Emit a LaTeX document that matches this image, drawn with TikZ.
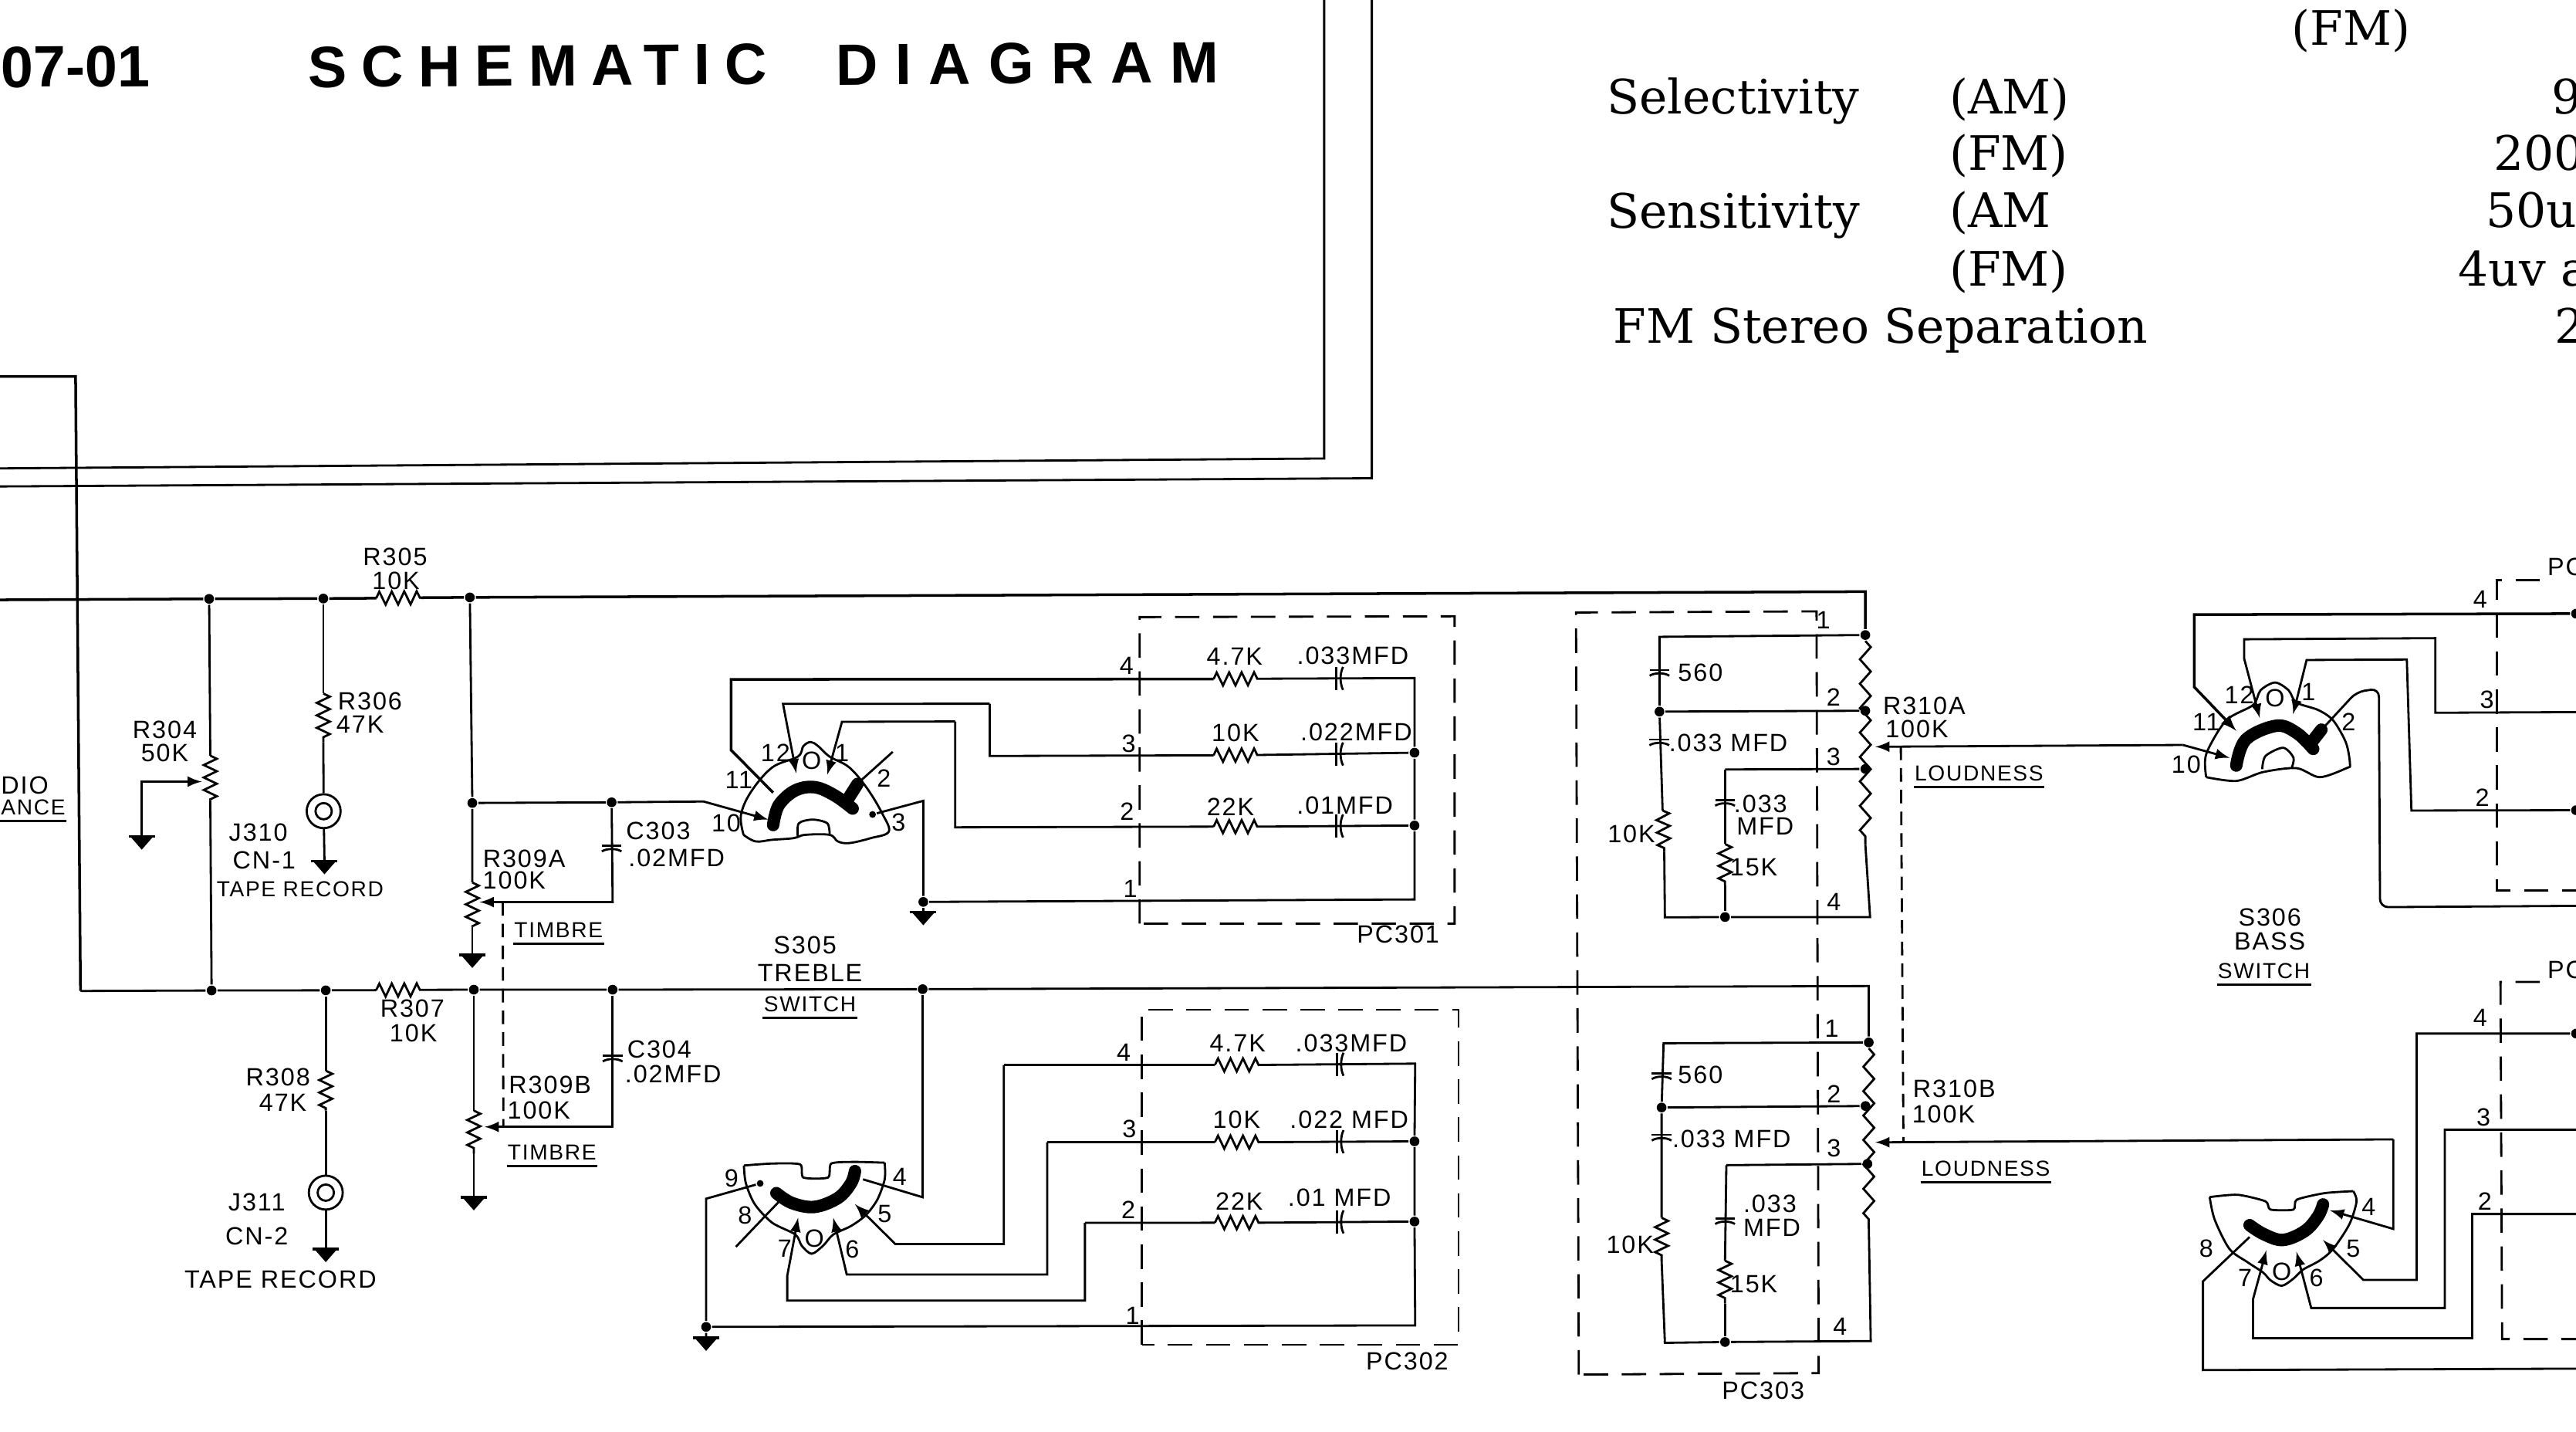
\documentclass[tikz,border=0pt]{standalone}
\usepackage{fontspec}
\usetikzlibrary{decorations.pathmorphing}
\newfontfamily\labfont[LetterSpace=6]{Liberation Sans}
\newfontfamily\titlefont{Liberation Sans Bold}
\newfontfamily\specfont{DejaVu Serif}
\begin{document}
\begin{tikzpicture}[x=0.2129mm, y=-0.2129mm, line width=0.8pt,
    lab/.style = {font=\labfont\fontsize{9.2}{10}\selectfont, inner sep=0pt},
    labn/.style = {font=\labfont\fontsize{8}{10}\selectfont, inner sep=0pt},
    titletext/.style = {font=\titlefont\fontsize{21.5}{24}\selectfont, inner sep=0pt, anchor=west, rotate=0.4},
    spec/.style = {font=\specfont\fontsize{17.5}{20}\selectfont, inner sep=0pt, anchor=base west},
    dot/.style = {circle, fill, inner sep=0pt, minimum size=3.6pt},
    res/.style = {decorate, decoration={zigzag, segment length=4.6pt, amplitude=2.4pt}},
    pot/.style = {decorate, decoration={zigzag, segment length=9pt, amplitude=2pt}},
    dashbox/.style = {dash pattern=on 9pt off 5pt},
    gang/.style = {dash pattern=on 5pt off 3pt},
    thickarc/.style = {line width=4.6pt, line cap=round},
    gnd/.pic = {\draw[line width=1pt] (-8,0) -- (8,0); \fill (-7,0) -- (7,0) -- (0,8) -- cycle;},
    caph/.pic = {\draw (-1.5,-7) -- (-1.5,7); \draw (2.5,-7) .. controls (0.5,-3) and (0.5,3) .. (2.5,7);},
    capv/.pic = {\draw (-6,-1) -- (6,-1); \draw (-6,2.5) .. controls (-3,0.5) and (3,0.5) .. (6,2.5);}]

    \path[use as bounding box, clip] (0,0) rectangle (1568,871);

    \node[titletext] (t1) at (0,41) {07-01};
    \node[titletext] (t2) at (187,41) {\addfontfeature{LetterSpace=25}SCHEMATIC};
    \node[titletext] (t3) at (508,39.5) {\addfontfeature{LetterSpace=30}DIAGRAM};

    \node[spec] (s1) at (1394.3,27.4) {(FM)};
    \node[spec] (s2) at (977.5,69.5) {Selectivity};
    \node[spec] (s3) at (1185.9,69.5) {(AM)};
    \node[spec] (s4) at (1185.9,103.4) {(FM)};
    \node[spec] (s5) at (977.5,139) {Sensitivity};
    \node[spec] (s6) at (1185.9,138.5) {(AM};
    \node[spec] (s7) at (1185.9,173.8) {(FM)};
    \node[spec] (s8) at (981.5,209) {FM Stereo Separation};
    \node[spec] (s9) at (1552.6,69.5) {9};
    \node[spec] (s10) at (1517.3,103.4) {200};
    \node[spec] (s11) at (1512.5,138.5) {50uv};
    \node[spec] (s12) at (1495.7,173.8) {4uv a};
    \node[spec] (s13) at (1554.6,209) {2};

    \coordinate (fa1) at (806,0);
    \coordinate (fa2) at (806,279);
    \coordinate (fa3) at (0,285);
    \coordinate (fb1) at (835,0);
    \coordinate (fb2) at (835,291);
    \coordinate (fb3) at (0,296);
    \draw (fa1) -- (fa2) -- (fa3);
    \draw (fb1) -- (fb2) -- (fb3);

    \coordinate (au0) at (0,229);
    \coordinate (au1) at (46,229);
    \coordinate (au2) at (49,603);
    \draw[line width=1pt] (au0) -- (au1) -- (au2);

    \coordinate (busa0) at (0,365);
    \coordinate (r305a) at (229,364);
    \coordinate (r305b) at (256,363.7);
    \coordinate (busa1) at (1135.4,360);
    \node[dot] (da304) at (127.3,364.4) {};
    \node[dot] (da306) at (196.8,364.2) {};
    \node[dot] (da309) at (286,363.5) {};
    \node[dot] (dpa1) at (1135.4,386.4) {};
    \draw[line width=1pt] (busa0) -- (da304) -- (da306) -- (r305a);
    \draw[res] (r305a) -- (r305b);
    \draw[line width=1pt] (r305b) -- (da309) -- (busa1) -- (dpa1);
    \node[lab] (lr305) at (240.5,339) {R305};
    \node[lab] (lr305v) at (241,353.6) {10K};

    \coordinate (r307a) at (229,602.5);
    \coordinate (r307b) at (256,602.3);
    \coordinate (busb1) at (1137.5,600);
    \node[dot] (db304) at (128.8,602.7) {};
    \node[dot] (db308) at (198.3,602.6) {};
    \node[dot] (db309) at (288.4,602.2) {};
    \node[dot] (db304c) at (372.9,602.2) {};
    \node[dot] (db305) at (561.6,601.9) {};
    \node[dot] (dpb1) at (1137.5,634.3) {};
    \draw (au2) -- (db304) -- (db308) -- (r307a);
    \draw[res] (r307a) -- (r307b);
    \draw (r307b) -- (db309) -- (db304c) -- (db305) -- (busb1) -- (dpb1);
    \node[lab] (lr307) at (251,613.7) {R307};
    \node[lab] (lr307v) at (251.6,628.6) {10K};

    \node[lab, anchor=west] (aud1) at (0,477.8) {DIO};
    \node[labn, anchor=west] (aud2) at (0,491.3) {ANCE};
    \draw ([yshift=-1.8pt]aud2.south west) -- ([yshift=-1.8pt]aud2.south east);

    \coordinate (r304a) at (128,459.8);
    \coordinate (r304b) at (128,486.8);
    \coordinate (w304a) at (122.8,475.6);
    \coordinate (w304b) at (86.3,475.6);
    \coordinate (g304) at (86.3,509);
    \draw (da304) -- (r304a);
    \draw[res] (r304a) -- (r304b);
    \draw (r304b) -- (db304);
    \draw[-latex] (g304) -- (w304b) -- (w304a);
    \pic at (g304) {gnd};
    \node[lab] (lr304) at (100.3,444) {R304};
    \node[lab] (lr304v) at (100.3,458) {50K};

    \coordinate (r306a) at (196.8,422);
    \coordinate (r306b) at (196.8,451.7);
    \coordinate (g310) at (197.5,524);
    \node[draw, circle, minimum size=12.5pt, inner sep=0pt] (j310) at (197,493.6) {};
    \node[draw, circle, minimum size=6pt, inner sep=0pt] (j310i) at (197,493.6) {};
    \draw (da306) -- (r306a);
    \draw[res] (r306a) -- (r306b);
    \draw (r306b) -- (j310);
    \draw (j310) -- (g310);
    \pic at (g310) {gnd};
    \node[lab] (lr306) at (225.2,426.9) {R306};
    \node[lab] (lr306v) at (219.2,441) {47K};
    \node[lab] (lj310) at (157.2,506.6) {J310};
    \node[lab] (lj310b) at (160.8,523.5) {CN-1};
    \node[labn] (lj310c) at (182.7,541) {TAPE RECORD};

    \coordinate (r308a) at (198.3,651.5);
    \coordinate (r308b) at (198.3,675.8);
    \coordinate (g311) at (198.3,760);
    \node[draw, circle, minimum size=12.5pt, inner sep=0pt] (j311) at (198.3,725.7) {};
    \node[draw, circle, minimum size=6pt, inner sep=0pt] (j311i) at (198.3,725.7) {};
    \draw (db308) -- (r308a);
    \draw[res] (r308a) -- (r308b);
    \draw (r308b) -- (j311);
    \draw (j311) -- (g311);
    \pic at (g311) {gnd};
    \node[lab] (lr308) at (169.2,655.5) {R308};
    \node[lab] (lr308v) at (172.2,671) {47K};
    \node[lab] (lj311) at (156.3,731.6) {J311};
    \node[lab] (lj311b) at (156.3,752) {CN-2};
    \node[lab] (lj311c) at (170.7,778.4) {TAPE RECORD};

    \node[dot] (d309a) at (287.5,488.6) {};
    \node[dot] (d303) at (372.3,488.2) {};
    \coordinate (r309aa) at (287.5,537);
    \coordinate (r309ab) at (287.5,564);
    \coordinate (w309a) at (292,548.9);
    \coordinate (c303b) at (372.9,548.9);
    \coordinate (c303) at (372.3,515.6);
    \coordinate (g309a) at (287.5,581);
    \coordinate (in305) at (428.3,487.7);
    \coordinate (gang1) at (306,548.9);
    \coordinate (gang2) at (306.4,685.7);
    \draw (da309) -- (d309a) -- (r309aa);
    \draw[res] (r309aa) -- (r309ab);
    \draw (r309ab) -- (g309a);
    \draw (d309a) -- (d303);
    \draw[-latex] (d303) -- (c303b) -- (w309a);
    \draw[gang] (gang1) -- (gang2);
    \pic at (g309a) {gnd};
    \pic at (c303) {capv};
    \node[lab] (lc303) at (400.7,505.7) {C303};
    \node[lab] (lc303v) at (411.8,521.9) {.02MFD};
    \node[lab] (lr309a) at (319,522.4) {R309A};
    \node[lab] (lr309av) at (313,535.8) {100K};
    \node[labn] (ltima) at (340,566) {TIMBRE};
    \draw ([yshift=-1.8pt]ltima.south west) -- ([yshift=-1.8pt]ltima.south east);

    \coordinate (r309ba) at (288.4,675.8);
    \coordinate (r309bb) at (288.4,702);
    \coordinate (w309b) at (295,685.7);
    \coordinate (c304b) at (372.9,685.7);
    \coordinate (c304) at (372.9,643.4);
    \coordinate (g309b) at (288.4,728.5);
    \draw (db309) -- (r309ba);
    \draw[res] (r309ba) -- (r309bb);
    \draw (r309bb) -- (g309b);
    \draw[-latex] (db304c) -- (c304b) -- (w309b);
    \pic at (g309b) {gnd};
    \pic at (c304) {capv};
    \node[lab] (lc304) at (401.3,638.5) {C304};
    \node[lab] (lc304v) at (409.7,653.8) {.02MFD};
    \node[lab] (lr309b) at (334.8,660) {R309B};
    \node[lab] (lr309bv) at (328,675.8) {100K};
    \node[labn] (ltimb) at (336,701.4) {TIMBRE};
    \draw ([yshift=-1.8pt]ltimb.south west) -- ([yshift=-1.8pt]ltimb.south east);

    \node[lab] (ls305) at (490,575) {S305};
    \node[lab] (ls305b) at (493,592) {TREBLE};
    \node[labn] (ls305c) at (493,611) {SWITCH};
    \draw ([yshift=-1.8pt]ls305c.south west) -- ([yshift=-1.8pt]ls305c.south east);

    \draw plot[smooth, tension=.6] coordinates {(452.6,508) (451,496) (457,482) (470,467) (485.6,460.4) (489,454) (493.5,451.5) (498,454) (505,460.4) (517,467) (528,480) (537,495) (541,506) (530,510) (517,513) (510,512) (505,508) (490,508) (483,510) (470,511) (460,512) (452.6,508)};
    \draw plot[smooth, tension=.5] coordinates {(485.6,509) (486.2,501) (494.6,498.7) (503.6,501) (505,508)};
    \draw[thickarc] plot[smooth, tension=.6] coordinates {(470.6,502) (474,490) (484,481) (496,479) (508,484) (519,492)};
    \draw[thickarc] (515,488) -- (522,477);

    \coordinate (p11a) at (445,413.4);
    \coordinate (p11b) at (445,456.4);
    \coordinate (p11c) at (470.6,482.3);
    \coordinate (p12a) at (476.6,428.3);
    \coordinate (p12b) at (484.7,470.5);
    \coordinate (p1a) at (512.5,439.2);
    \coordinate (p1b) at (503.6,471.3);
    \coordinate (p2a) at (543.4,457.5);
    \coordinate (p2b) at (524.5,474.5);
    \coordinate (p3b) at (562,487.3);
    \coordinate (p10) at (467.6,498.7);
    \coordinate (l3a) at (602.4,428.2);
    \coordinate (l3b) at (602.4,460);
    \coordinate (l2a) at (581.4,439);
    \coordinate (l2b) at (581.4,503.4);
    \node[dot, minimum size=2.5pt] (p3) at (531.1,495.6) {};
    \node[dot] (d305g) at (562,548.8) {};
    \coordinate (g305) at (562,555);
    \draw (d303) -- (in305);
    \draw[-latex] (in305) -- (p10);
    \draw[-latex] (l3a) -- (p12a) -- (p12b);
    \draw[-latex] (l2a) -- (p1a) -- (p1b);
    \draw (p2a) -- (p2b);
    \draw (p3) -- (p3b) -- (d305g) -- (g305);
    \pic at (g305) {gnd};
    \node[lab] (n11) at (449.7,474.5) {11};
    \node[lab] (n12) at (472,458) {12};
    \node[lab] (n0) at (494,462.7) {O};
    \node[lab] (n1) at (512.5,458) {1};
    \node[lab] (n2) at (538,473.7) {2};
    \node[lab] (n3) at (547,500.3) {3};
    \node[lab] (n10) at (442,501) {10};

    \coordinate (pca1) at (693.7,375.5);
    \coordinate (pca2) at (885.4,375);
    \coordinate (pca3) at (885.4,562);
    \coordinate (pca4) at (693.7,562);
    \draw[dashbox] (pca4) -- (pca1) -- (pca2) -- (pca3) -- (pca4);
    \node[lab] (lpc301) at (851,568.4) {PC301};

    \coordinate (ra1) at (738.7,413.2);
    \coordinate (ra2) at (765.6,413);
    \coordinate (ca1) at (815,412.8);
    \coordinate (ea1) at (861,412.6);
    \coordinate (ra3) at (738.7,459.6);
    \coordinate (ra4) at (765.6,459.4);
    \coordinate (ca2) at (815,458.8);
    \coordinate (ra5) at (738.7,503);
    \coordinate (ra6) at (765.6,503);
    \coordinate (ca3) at (815,502.6);
    \coordinate (ea4) at (861,547.3);
    \node[dot] (ea2) at (861,458) {};
    \node[dot] (ea3) at (861,502.3) {};
    \draw[line width=1pt] (p11c) -- (p11b) -- (p11a) -- (ra1);
    \draw[res] (ra1) -- (ra2);
    \draw (ra2) -- (ea1) -- (ea2) -- (ea3) -- (ea4) -- (d305g);
    \draw (l3a) -- (l3b) -- (ra3);
    \draw[res] (ra3) -- (ra4);
    \draw (ra4) -- (ea2);
    \draw (l2a) -- (l2b) -- (ra5);
    \draw[res] (ra5) -- (ra6);
    \draw (ra6) -- (ea3);
    \pic at (ca1) {caph};
    \pic at (ca2) {caph};
    \pic at (ca3) {caph};
    \node[lab] (na4) at (685.7,405) {4};
    \node[lab] (na3) at (687,452.5) {3};
    \node[lab] (na2) at (686,494) {2};
    \node[lab] (na1) at (688,541) {1};
    \node[lab] (va1) at (751.5,399.6) {4.7K};
    \node[lab] (va2) at (823.4,399) {.033MFD};
    \node[lab] (va3) at (752,446) {10K};
    \node[lab] (va4) at (825.5,445.5) {.022MFD};
    \node[lab] (va5) at (749,490.9) {22K};
    \node[lab] (va6) at (818.6,490) {.01MFD};

    \draw plot[smooth, tension=.5] coordinates {(452.8,709.2) (454,720) (459.4,732.7) (470,744) (484.1,751.2) (488,758) (494,762.9) (501,758) (507.2,751.2) (518,746) (527,739.4) (534,730) (538.5,717.6) (538.5,707.5)};
    \draw plot[smooth, tension=.4] coordinates {(452.8,709.2) (470,708) (487,708.5) (489,716.5) (504,716.5) (506,708) (520,707) (538.5,707.5)};
    \draw[thickarc] plot[smooth, tension=.6] coordinates {(472.6,726) (482,732) (495.7,734.4) (510,729) (518,720) (520.4,712.6)};

    \coordinate (q9a) at (429.8,729.4);
    \node[dot, minimum size=2.5pt] (q9) at (462.7,720.1) {};
    \coordinate (q8a) at (447.9,758.7);
    \coordinate (q8b) at (474.3,731);
    \coordinate (q4a) at (561.6,728.5);
    \coordinate (q4b) at (525.3,717.6);
    \coordinate (q5a) at (545,757);
    \coordinate (q5b) at (520.4,732.7);
    \coordinate (q6a) at (515.4,775.5);
    \coordinate (q6b) at (507.2,741);
    \coordinate (q7a) at (479.2,791.4);
    \coordinate (q7b) at (479.2,776.3);
    \coordinate (q7c) at (485.8,741);
    \node[dot] (d302g) at (429.8,807.4) {};
    \coordinate (g302) at (429.8,814);
    \draw (q8a) -- (q8b);
    \draw (db305) -- (q4a) -- (q4b);
    \draw (q9) -- (q9a) -- (d302g) -- (g302);
    \pic at (g302) {gnd};
    \node[lab] (m9) at (445.3,716.8) {9};
    \node[lab] (m8) at (453.5,739.4) {8};
    \node[lab] (m7) at (477.6,759.5) {7};
    \node[lab] (m0) at (495.7,753.7) {O};
    \node[lab] (m6) at (518.7,760.4) {6};
    \node[lab] (m5) at (538.5,738.6) {5};
    \node[lab] (m4) at (547.7,716) {4};

    \coordinate (pcb1) at (695,614.4);
    \coordinate (pcb2) at (887.8,614.4);
    \coordinate (pcb3) at (887.8,818.3);
    \coordinate (pcb4) at (695,818.3);
    \draw[dashbox] (pcb4) -- (pcb1) -- (pcb2) -- (pcb3) -- (pcb4);
    \node[lab] (lpc302) at (856.5,828.3) {PC302};

    \coordinate (lb4a) at (611,648);
    \coordinate (lb4b) at (611,757);
    \coordinate (rb1) at (739.5,648);
    \coordinate (rb2) at (767.5,648);
    \coordinate (cb1) at (815.3,647.6);
    \coordinate (eb1) at (861.4,647.2);
    \coordinate (lb3a) at (637.4,695);
    \coordinate (lb3b) at (637.4,775.5);
    \coordinate (rb3) at (739.5,695);
    \coordinate (rb4) at (767.5,695);
    \coordinate (cb2) at (815.3,694.7);
    \coordinate (lb2a) at (660.4,744.1);
    \coordinate (lb2b) at (660.4,791.4);
    \coordinate (rb5) at (739.5,744);
    \coordinate (rb6) at (767.5,744);
    \coordinate (cb3) at (815.3,743.5);
    \coordinate (eb4) at (861.4,806.5);
    \node[dot] (eb2) at (861,694.5) {};
    \node[dot] (eb3) at (861,743.3) {};
    \draw[-latex] (lb4a) -- (lb4b) -- (q5a) -- (q5b);
    \draw[-latex] (lb3a) -- (lb3b) -- (q6a) -- (q6b);
    \draw[-latex] (lb2a) -- (lb2b) -- (q7a) -- (q7b) -- (q7c);
    \draw (lb4a) -- (rb1);
    \draw[res] (rb1) -- (rb2);
    \draw (rb2) -- (eb1) -- (eb2) -- (eb3) -- (eb4) -- (d302g);
    \draw (lb3a) -- (rb3);
    \draw[res] (rb3) -- (rb4);
    \draw (rb4) -- (eb2);
    \draw (lb2a) -- (rb5);
    \draw[res] (rb5) -- (rb6);
    \draw (rb6) -- (eb3);
    \pic at (cb1) {caph};
    \pic at (cb2) {caph};
    \pic at (cb3) {caph};
    \node[lab] (nb4) at (684,640.4) {4};
    \node[lab] (nb3) at (687.4,687) {3};
    \node[lab] (nb2) at (686.8,736) {2};
    \node[lab] (nb1) at (689.4,800.7) {1};
    \node[lab] (vb1) at (753.3,634.6) {4.7K};
    \node[lab] (vb2) at (822.5,634.6) {.033MFD};
    \node[lab] (vb3) at (752.7,681.5) {10K};
    \node[lab] (vb4) at (821.2,681.5) {.022 MFD};
    \node[lab] (vb5) at (754.3,731) {22K};
    \node[lab] (vb6) at (815.3,728.5) {.01 MFD};

    \coordinate (pcc1) at (959.3,372.7);
    \coordinate (pcc2) at (1105.7,372);
    \coordinate (pcc3) at (1107,835.5);
    \coordinate (pcc4) at (961,836.4);
    \draw[dashbox] (pcc4) -- (pcc1) -- (pcc2) -- (pcc3) -- (pcc4);
    \node[lab] (lpc303) at (1073.2,846) {PC303};

    \coordinate (ta1) at (1010.1,387.5);
    \coordinate (ca560) at (1010.1,408.7);
    \node[dot] (ta2) at (1010.1,433) {};
    \coordinate (ca033) at (1010,451);
    \coordinate (ta3) at (1012,493.2);
    \coordinate (ta4) at (1013,518.3);
    \coordinate (ta5) at (1013.4,558.2);
    \node[dot] (ta6) at (1050,558) {};
    \coordinate (ta7) at (1050,538.7);
    \coordinate (ta8) at (1050,513.6);
    \coordinate (ta9) at (1050,468.2);
    \coordinate (cb033) at (1050,487.8);
    \coordinate (pa1) at (1135.4,513.6);
    \coordinate (pa2) at (1138.3,558);
    \node[dot] (pa3) at (1135.4,432.5) {};
    \node[dot] (pa4) at (1135.4,467.9) {};
    \coordinate (wa) at (1141.5,454.4);
    \coordinate (wa1) at (1328.7,453.3);
    \coordinate (wa2) at (1357.1,461.1);
    \draw (dpa1) -- (ta1) -- (ta2) -- (ta3);
    \draw[res] (ta3) -- (ta4);
    \draw (ta4) -- (ta5) -- (ta6) -- (pa2) -- (pa1);
    \draw[pot] (dpa1) -- (pa1);
    \draw (ta2) -- (pa3);
    \draw (ta9) -- (pa4);
    \draw (ta9) -- (ta8);
    \draw[res] (ta8) -- (ta7);
    \draw (ta7) -- (ta6);
    \draw[-latex] (wa1) -- (wa);
    \draw[-latex] (wa1) -- (wa2);
    \pic at (ca560) {capv};
    \pic at (ca033) {capv};
    \pic at (cb033) {capv};
    \node[lab] (lc560a) at (1035,409.5) {560};
    \node[lab] (lc033a) at (1052,452.2) {.033 MFD};
    \node[lab] (l10ka) at (993,507.3) {10K};
    \node[lab] (lc033b) at (1071.6,489) {.033};
    \node[lab] (lc033c) at (1074.4,502.6) {MFD};
    \node[lab] (l15ka) at (1067.5,527.7) {15K};
    \node[lab] (nc1) at (1109.8,377.4) {1};
    \node[lab] (nc2) at (1116,424.3) {2};
    \node[lab] (nc3) at (1116,460.7) {3};
    \node[lab] (nc4) at (1116.3,548.8) {4};
    \node[lab] (lr310a) at (1171.2,429.5) {R310A};
    \node[lab] (lr310av) at (1166.8,443.6) {100K};
    \node[labn] (lloua) at (1204.6,470.5) {LOUDNESS};
    \draw ([yshift=-1.8pt]lloua.south west) -- ([yshift=-1.8pt]lloua.south east);

    \coordinate (tb1) at (1012.6,634.8);
    \coordinate (cb560) at (1011.4,654.1);
    \node[dot] (tb2) at (1011.4,673.9) {};
    \coordinate (cc033) at (1011.4,691.5);
    \coordinate (tb3) at (1011.4,741);
    \coordinate (tb4) at (1011.4,767.1);
    \coordinate (tb5) at (1013.4,817.1);
    \node[dot] (tb6) at (1050,816.6) {};
    \coordinate (tb7) at (1050,793.2);
    \coordinate (tb8) at (1050,767.1);
    \coordinate (tb9) at (1050.8,709);
    \coordinate (cd033) at (1050,742.3);
    \coordinate (pb1) at (1137.5,745.5);
    \coordinate (pb2) at (1138.7,816);
    \node[dot] (pb3) at (1135.5,673) {};
    \node[dot] (pb4) at (1136.7,708.2) {};
    \coordinate (wb) at (1141.5,695.1);
    \coordinate (wb1) at (1456.8,693.3);
    \coordinate (wb2) at (1456.8,747.8);
    \coordinate (wb3) at (1418.2,736.5);
    \coordinate (gang3) at (1157,454.2);
    \coordinate (gang4) at (1158.6,695);
    \draw[gang] (gang3) -- (gang4);
    \draw (dpb1) -- (tb1) -- (tb2) -- (tb3);
    \draw[res] (tb3) -- (tb4);
    \draw (tb4) -- (tb5) -- (tb6) -- (pb2) -- (pb1);
    \draw[pot] (dpb1) -- (pb1);
    \draw (tb2) -- (pb3);
    \draw (tb9) -- (pb4);
    \draw (tb9) -- (tb8);
    \draw[res] (tb8) -- (tb7);
    \draw (tb7) -- (tb6);
    \draw[-latex] (wb1) -- (wb);
    \draw[-latex] (wb1) -- (wb2) -- (wb3);
    \pic at (cb560) {capv};
    \pic at (cc033) {capv};
    \pic at (cd033) {capv};
    \node[lab] (lc560b) at (1035,654.1) {560};
    \node[lab] (lc033d) at (1054,692.8) {.033 MFD};
    \node[lab] (l10kb) at (992.2,757.2) {10K};
    \node[lab] (lc033e) at (1077.3,732.5) {.033};
    \node[lab] (lc033f) at (1078.5,747) {MFD};
    \node[lab] (l15kb) at (1067.5,781.5) {15K};
    \node[lab] (nd1) at (1115,625.8) {1};
    \node[lab] (nd2) at (1116.3,665.8) {2};
    \node[lab] (nd3) at (1116.3,698.7) {3};
    \node[lab] (nd4) at (1120,807) {4};
    \node[lab] (lr310b) at (1189.5,662.7) {R310B};
    \node[lab] (lr310bv) at (1183,678) {100K};
    \node[labn] (lloub) at (1208.7,711) {LOUDNESS};
    \draw ([yshift=-1.8pt]lloub.south west) -- ([yshift=-1.8pt]lloub.south east);

    \draw plot[smooth, tension=.5] coordinates {(1342.9,472.9) (1342.9,458.8) (1355,438.4) (1371.4,429) (1376,420) (1384.8,415.3) (1393,420) (1397.8,427.5) (1411,432) (1420.2,438.4) (1428,452) (1430.4,465) (1428.3,467.4) (1412,472.9) (1397.8,467.4) (1377.5,469.8) (1361.2,475.2) (1342.9,472.9)};
    \draw plot[smooth, tension=.5] coordinates {(1377,468) (1379,460) (1389.7,455) (1396,461) (1395,467)};
    \draw[thickarc] plot[smooth, tension=.6] coordinates {(1361.2,465.8) (1367,450) (1385.6,441.6) (1398,446) (1408,455.7)};
    \draw[thickarc] (1406,453) -- (1413,444);

    \coordinate (u11a) at (1335.6,374);
    \coordinate (u11b) at (1335.6,418);
    \coordinate (u11c) at (1361.2,444.7);
    \coordinate (u12a) at (1366,389);
    \coordinate (u12b) at (1366,400.8);
    \coordinate (u12c) at (1375.5,436.9);
    \coordinate (u1a) at (1404,401.6);
    \coordinate (u1b) at (1395.8,434.5);
    \coordinate (u2a) at (1414,443.1);
    \coordinate (u2b) at (1434.4,421);
    \coordinate (u2c) at (1448,419);
    \coordinate (u2d) at (1448.7,552);
    \coordinate (u2e) at (1568,551.2);
    \coordinate (lu3a) at (1482.4,388.3);
    \coordinate (lu3b) at (1482.4,433.7);
    \coordinate (lu3c) at (1568,433.3);
    \coordinate (lu2a) at (1465,401.3);
    \coordinate (lu2b) at (1467.8,493.2);
    \node[dot] (ru4) at (1568,373.4) {};
    \node[dot] (ru2) at (1568,493) {};
    \draw[line width=1pt, latex-] (u11c) -- (u11b) -- (u11a) -- (ru4);
    \draw[latex-] (u12c) -- (u12b) -- (u12a) -- (lu3a) -- (lu3b) -- (lu3c);
    \draw[latex-] (u1b) -- (u1a) -- (lu2a) -- (lu2b) -- (ru2);
    \draw[rounded corners=3pt] (u2a) -- (u2b) -- (u2c) -- (u2d) -- (u2e);
    \node[lab] (k12) at (1363,422.8) {12};
    \node[lab] (k0) at (1384.8,424.7) {O};
    \node[lab] (k1) at (1405.1,421.2) {1};
    \node[lab] (k11) at (1342.9,439.2) {11};
    \node[lab] (k2) at (1429.6,439.2) {2};
    \node[lab] (k10) at (1330.7,465) {10};
    \node[lab] (ls306) at (1381.6,558.2) {S306};
    \node[lab] (ls306b) at (1381.6,572.8) {BASS};
    \node[labn] (ls306c) at (1378,591) {SWITCH};
    \draw ([yshift=-1.8pt]ls306c.south west) -- ([yshift=-1.8pt]ls306c.south east);

    \coordinate (pcd1) at (1546,353);
    \coordinate (pcd2) at (1520,353);
    \coordinate (pcd3) at (1520,541.8);
    \coordinate (pcd4) at (1568,541.8);
    \draw[dashbox] (pcd1) -- (pcd2) -- (pcd3) -- (pcd4);
    \node[lab, anchor=west] (lpcd) at (1550,345) {PC};
    \node[lab] (ne4) at (1509.7,364.8) {4};
    \node[lab] (ne3) at (1513.8,425.9) {3};
    \node[lab] (ne2) at (1511,485.1) {2};

    \draw plot[smooth, tension=.5] coordinates {(1345,728.4) (1348,742) (1357,759.9) (1368,768) (1377.5,774.3) (1382,779) (1388.9,782.4) (1396,778) (1401.9,772.5) (1412,767) (1420.2,759.9) (1430,745) (1434.4,731.1) (1432.4,724.8)};
    \draw plot[smooth, tension=.4] coordinates {(1345,728.4) (1362,727) (1379,731) (1382,736) (1396,736) (1398,730) (1415,726) (1432.4,724.8)};
    \draw[thickarc] plot[smooth, tension=.6] coordinates {(1369.3,745.5) (1378,751) (1389.7,754.5) (1403,749) (1411,740) (1414,732.9)};

    \coordinate (v4a) at (1471,628.9);
    \coordinate (v4b) at (1471,778.8);
    \coordinate (v4c) at (1438.5,778.8);
    \coordinate (v4d) at (1414,754.5);
    \coordinate (v3a) at (1488.1,687.4);
    \coordinate (v3b) at (1488.1,795.9);
    \coordinate (v3c) at (1406.8,795.9);
    \coordinate (v3d) at (1397.8,761.7);
    \coordinate (v3e) at (1568,687.4);
    \coordinate (v2a) at (1504.8,738.7);
    \coordinate (v2b) at (1504.8,814.3);
    \coordinate (v2c) at (1371.4,814.3);
    \coordinate (v2d) at (1371.4,790.5);
    \coordinate (v2e) at (1379.5,760.8);
    \coordinate (v2f) at (1568,738.7);
    \coordinate (v1a) at (1568,832.8);
    \coordinate (v1b) at (1340.9,833.7);
    \coordinate (v1c) at (1340.9,779.7);
    \coordinate (v1d) at (1369.3,752.7);
    \node[dot] (rv4) at (1568,628.9) {};
    \draw[-latex] (rv4) -- (v4a) -- (v4b) -- (v4c) -- (v4d);
    \draw[-latex] (v3e) -- (v3a) -- (v3b) -- (v3c) -- (v3d);
    \draw[-latex] (v2f) -- (v2a) -- (v2b) -- (v2c) -- (v2d) -- (v2e);
    \draw (v1a) -- (v1b) -- (v1c) -- (v1d);
    \node[lab] (w8) at (1342.9,759.5) {8};
    \node[lab] (w7) at (1366.5,777.5) {7};
    \node[lab] (w0) at (1388.9,774) {O};
    \node[lab] (w6) at (1410,777.4) {6};
    \node[lab] (w5) at (1432.4,760) {5};
    \node[lab] (w4) at (1441.8,734.3) {4};

    \coordinate (pce1) at (1546,597.5);
    \coordinate (pce2) at (1522,597.5);
    \coordinate (pce3) at (1523,814.8);
    \coordinate (pce4) at (1568,814.8);
    \draw[dashbox] (pce1) -- (pce2) -- (pce3) -- (pce4);
    \node[lab, anchor=west] (lpce) at (1550,590) {PC};
    \node[lab] (nf4) at (1509.7,619.1) {4};
    \node[lab] (nf3) at (1511.7,679.8) {3};
    \node[lab] (nf2) at (1512.5,731) {2};

\end{tikzpicture}
\end{document}
